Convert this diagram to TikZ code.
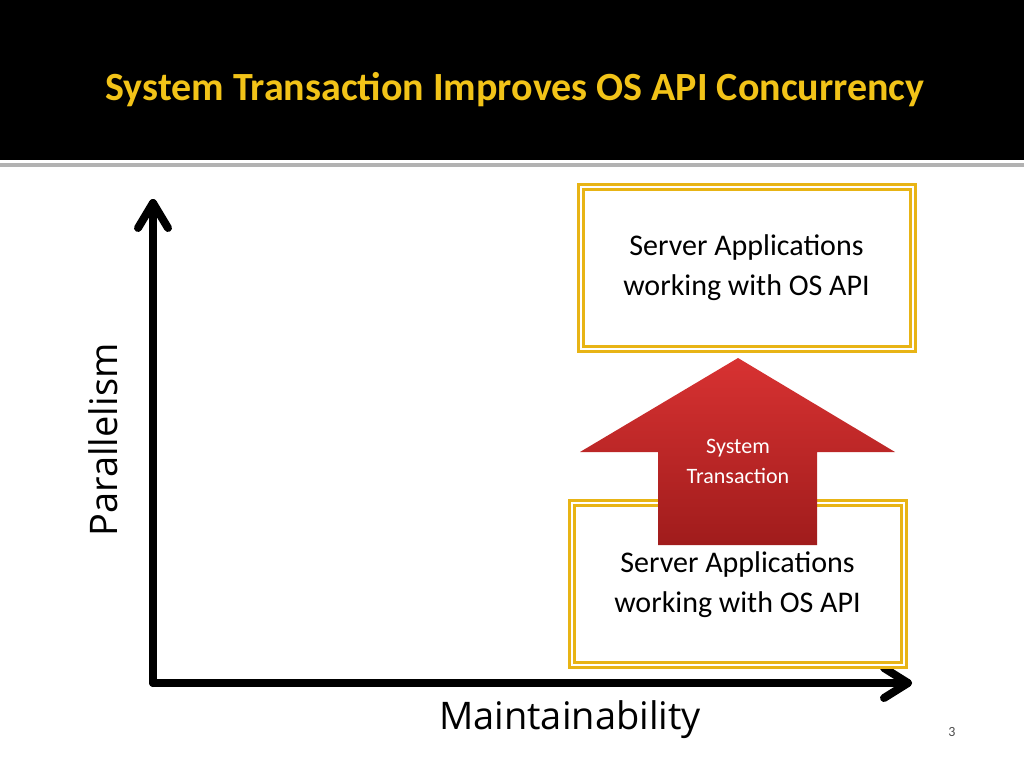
\documentclass[tikz,border=0pt]{standalone}
\usepackage{fontspec}
\setmainfont{Carlito}
\newfontfamily\labfont{Open Sans}
\definecolor{ttl}{HTML}{F2C318}
\definecolor{bx}{HTML}{E8B415}
\definecolor{rtop}{HTML}{D83232}
\definecolor{rbot}{HTML}{A01C1C}
\begin{document}
\begin{tikzpicture}[x=1pt,y=-1pt,
  appbox/.style={draw=bx,line width=3pt,double=white,double distance=2pt,fill=white,minimum width=332pt,minimum height=162pt,inner sep=0pt,align=center,font=\fontsize{30}{40}\selectfont},
  axis/.style={line width=8pt,line cap=round,line join=round}]
\useasboundingbox (0,0) rectangle (1024,768);
\fill[black] (0,0) rectangle (1024,160);
\fill[gray!60] (0,163) rectangle (1024,167);
\node[text=ttl,font=\fontsize{40}{48}\selectfont\bfseries] (title) at (515,90) {System Transaction Improves OS API Concurrency};
\coordinate (o) at (153,683);
\coordinate (ytip) at (153,203);
\coordinate (xtip) at (908,683);
\draw[axis] (o) -- (ytip);
\draw[axis] (o) -- (xtip);
\draw[axis] (138,228) -- (ytip) -- (168,228);
\draw[axis] (884,668) -- (xtip) -- (884,698);
\node[appbox] (top) at (746.5,268) {Server Applications\\working with OS API};
\node[appbox] (bot) at (737.5,584) {\raisebox{-18pt}{\begin{tabular}{c}Server Applications\\working with OS API\end{tabular}}};
\shade[top color=rtop,bottom color=rbot,drop shadow/.style={}] (738,358) -- (895,452) -- (817,452) -- (817,545) -- (658,545) -- (658,452) -- (580,452) -- cycle;
\node[text=white,align=center,font=\fontsize{22}{30}\selectfont] (st) at (738,461) {System\\Transaction};
\node[rotate=90,font=\labfont\fontsize{38}{44}\selectfont] (par) at (103,440) {Parallelism};
\node[font=\labfont\fontsize{38}{44}\selectfont] (mai) at (570,720) {Maintainability};
\node[font=\fontsize{14}{16}\selectfont,text=black!70] (pg) at (952,732) {3};
\end{tikzpicture}
\end{document}
